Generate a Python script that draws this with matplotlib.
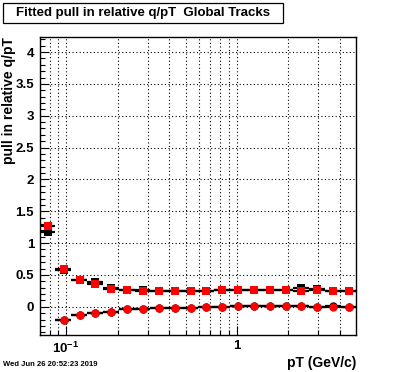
import numpy as np
import matplotlib
matplotlib.use("Agg")
import matplotlib.pyplot as plt
from matplotlib.patches import Rectangle
from matplotlib.ticker import FixedLocator, FixedFormatter, NullFormatter, MultipleLocator

plt.rcParams['font.family'] = ['Liberation Sans', 'DejaVu Sans']
plt.rcParams['font.weight'] = 'bold'
plt.rcParams['mathtext.fontset'] = 'custom'
plt.rcParams['mathtext.rm'] = 'Liberation Sans:bold'
plt.rcParams['mathtext.it'] = 'Liberation Sans:bold'
plt.rcParams['mathtext.bf'] = 'Liberation Sans:bold'

# pT bins (GeV/c), log spaced 0.07 .. 5
bin_edges = [0.07, 0.08665, 0.1073, 0.1328, 0.1644, 0.2035, 0.2519, 0.3118,
             0.3860, 0.4779, 0.5916, 0.7323, 0.9066, 1.122, 1.389, 1.720,
             2.129, 2.636, 3.263, 4.039, 5.0]

# red series (squares = width, circles = mean)
red_sq = [1.267, 0.592, 0.419, 0.35, 0.285, 0.262, 0.25, 0.246, 0.246, 0.246,
          0.254, 0.27, 0.27, 0.27, 0.27, 0.27, 0.251, 0.257, 0.246, 0.246]
red_circ = [np.nan, -0.209, -0.135, -0.104, -0.078, -0.041, -0.041, -0.025, -0.025, -0.025,
            -0.009, -0.009, 0.011, 0.011, 0.011, 0.011, 0.011, 0.0, 0.0, -0.009]

# black series, mostly hidden behind the red one
blk_sq = [1.17, 0.575, 0.42, 0.39, 0.29, 0.26, 0.27, 0.246, 0.246, 0.246,
          0.254, 0.27, 0.27, 0.27, 0.27, 0.27, 0.29, 0.28, 0.246, 0.246]
blk_circ = [np.nan, -0.2, -0.135, -0.104, -0.078, -0.041, -0.041, -0.025, -0.025, -0.025,
            -0.009, -0.009, 0.011, 0.011, 0.011, 0.011, 0.011, 0.0, 0.01, -0.009]

x_major = [0.1, 1]
x_major_labels = ['$10^{-1}$', '1']
x_minor = [0.08, 0.09, 0.2, 0.3, 0.4, 0.5, 0.6, 0.7, 0.8, 0.9, 2, 3, 4]

edges = np.array(bin_edges)
centers = 0.5 * (edges[1:] + edges[:-1])
half = 0.5 * (edges[1:] - edges[:-1])

fig = plt.figure(figsize=(3.96, 3.72), dpi=100)
ax = fig.add_axes([0.1, 0.1, 0.8, 0.8])

def draw(vals, marker, color, ms):
    ax.errorbar(centers, vals, xerr=half, fmt='none', ecolor='black', elinewidth=1.6, zorder=3)
    ax.plot(centers, vals, linestyle='none', marker=marker, color=color,
            markersize=ms, markeredgewidth=0, zorder=4)

draw(blk_sq, 's', 'black', 5.2)
draw(blk_circ, 'o', 'black', 6.0)
draw(red_sq, 's', '#ff0000', 5.2)
draw(red_circ, 'o', '#ff0000', 6.0)

ax.set_xscale('log')
ax.set_xlim(0.07, 5)
ax.set_ylim(-0.44, 4.233)

ax.xaxis.set_major_locator(FixedLocator(x_major))
ax.xaxis.set_major_formatter(FixedFormatter(x_major_labels))
ax.xaxis.set_minor_locator(FixedLocator(x_minor))
ax.xaxis.set_minor_formatter(NullFormatter())
ax.yaxis.set_minor_locator(MultipleLocator(0.1))
ax.set_yticks(np.arange(0, 4.01, 0.5))
ax.set_yticklabels(['0', '0.5', '1', '1.5', '2', '2.5', '3', '3.5', '4'])

ax.tick_params(which='major', direction='in', length=6.5, width=0.8, labelsize=9.5,
               top=False, right=False)
ax.tick_params(which='minor', direction='in', length=3.5, width=0.8, top=False, right=False)
ax.tick_params(axis='y', pad=4)
ax.tick_params(axis='x', pad=4)

grid_style = dict(color='black', linestyle=(0, (1, 2.2)), linewidth=0.8)
ax.grid(True, which='major', axis='both', **grid_style)
ax.grid(True, which='minor', axis='x', **grid_style)
ax.set_axisbelow(True)
for s in ax.spines.values():
    s.set_linewidth(1.0)

fig.text(356 / 396, 1 - 363 / 372, 'pT (GeV/c)', ha='right', va='center',
         fontsize=10, fontweight='bold')
fig.text(9 / 396, 1 - 37 / 372, 'pull in relative q/pT', rotation=90, ha='center',
         va='top', fontsize=10, fontweight='bold')

# title box
fig.patches.append(Rectangle((3 / 396, 1 - 23 / 372), 280 / 396, 20 / 372,
                             transform=fig.transFigure, facecolor='white',
                             edgecolor='black', linewidth=0.9))
fig.text(143 / 396, 1 - 13 / 372, 'Fitted pull in relative q/pT  Global Tracks',
         ha='center', va='center', fontsize=9.5, fontweight='bold')

fig.text(3 / 396, 1 - 365 / 372, 'Wed Jun 26 20:52:23 2019', ha='left', va='center',
         fontsize=5.5, fontweight='bold')

fig.savefig('out.png', dpi=100)
